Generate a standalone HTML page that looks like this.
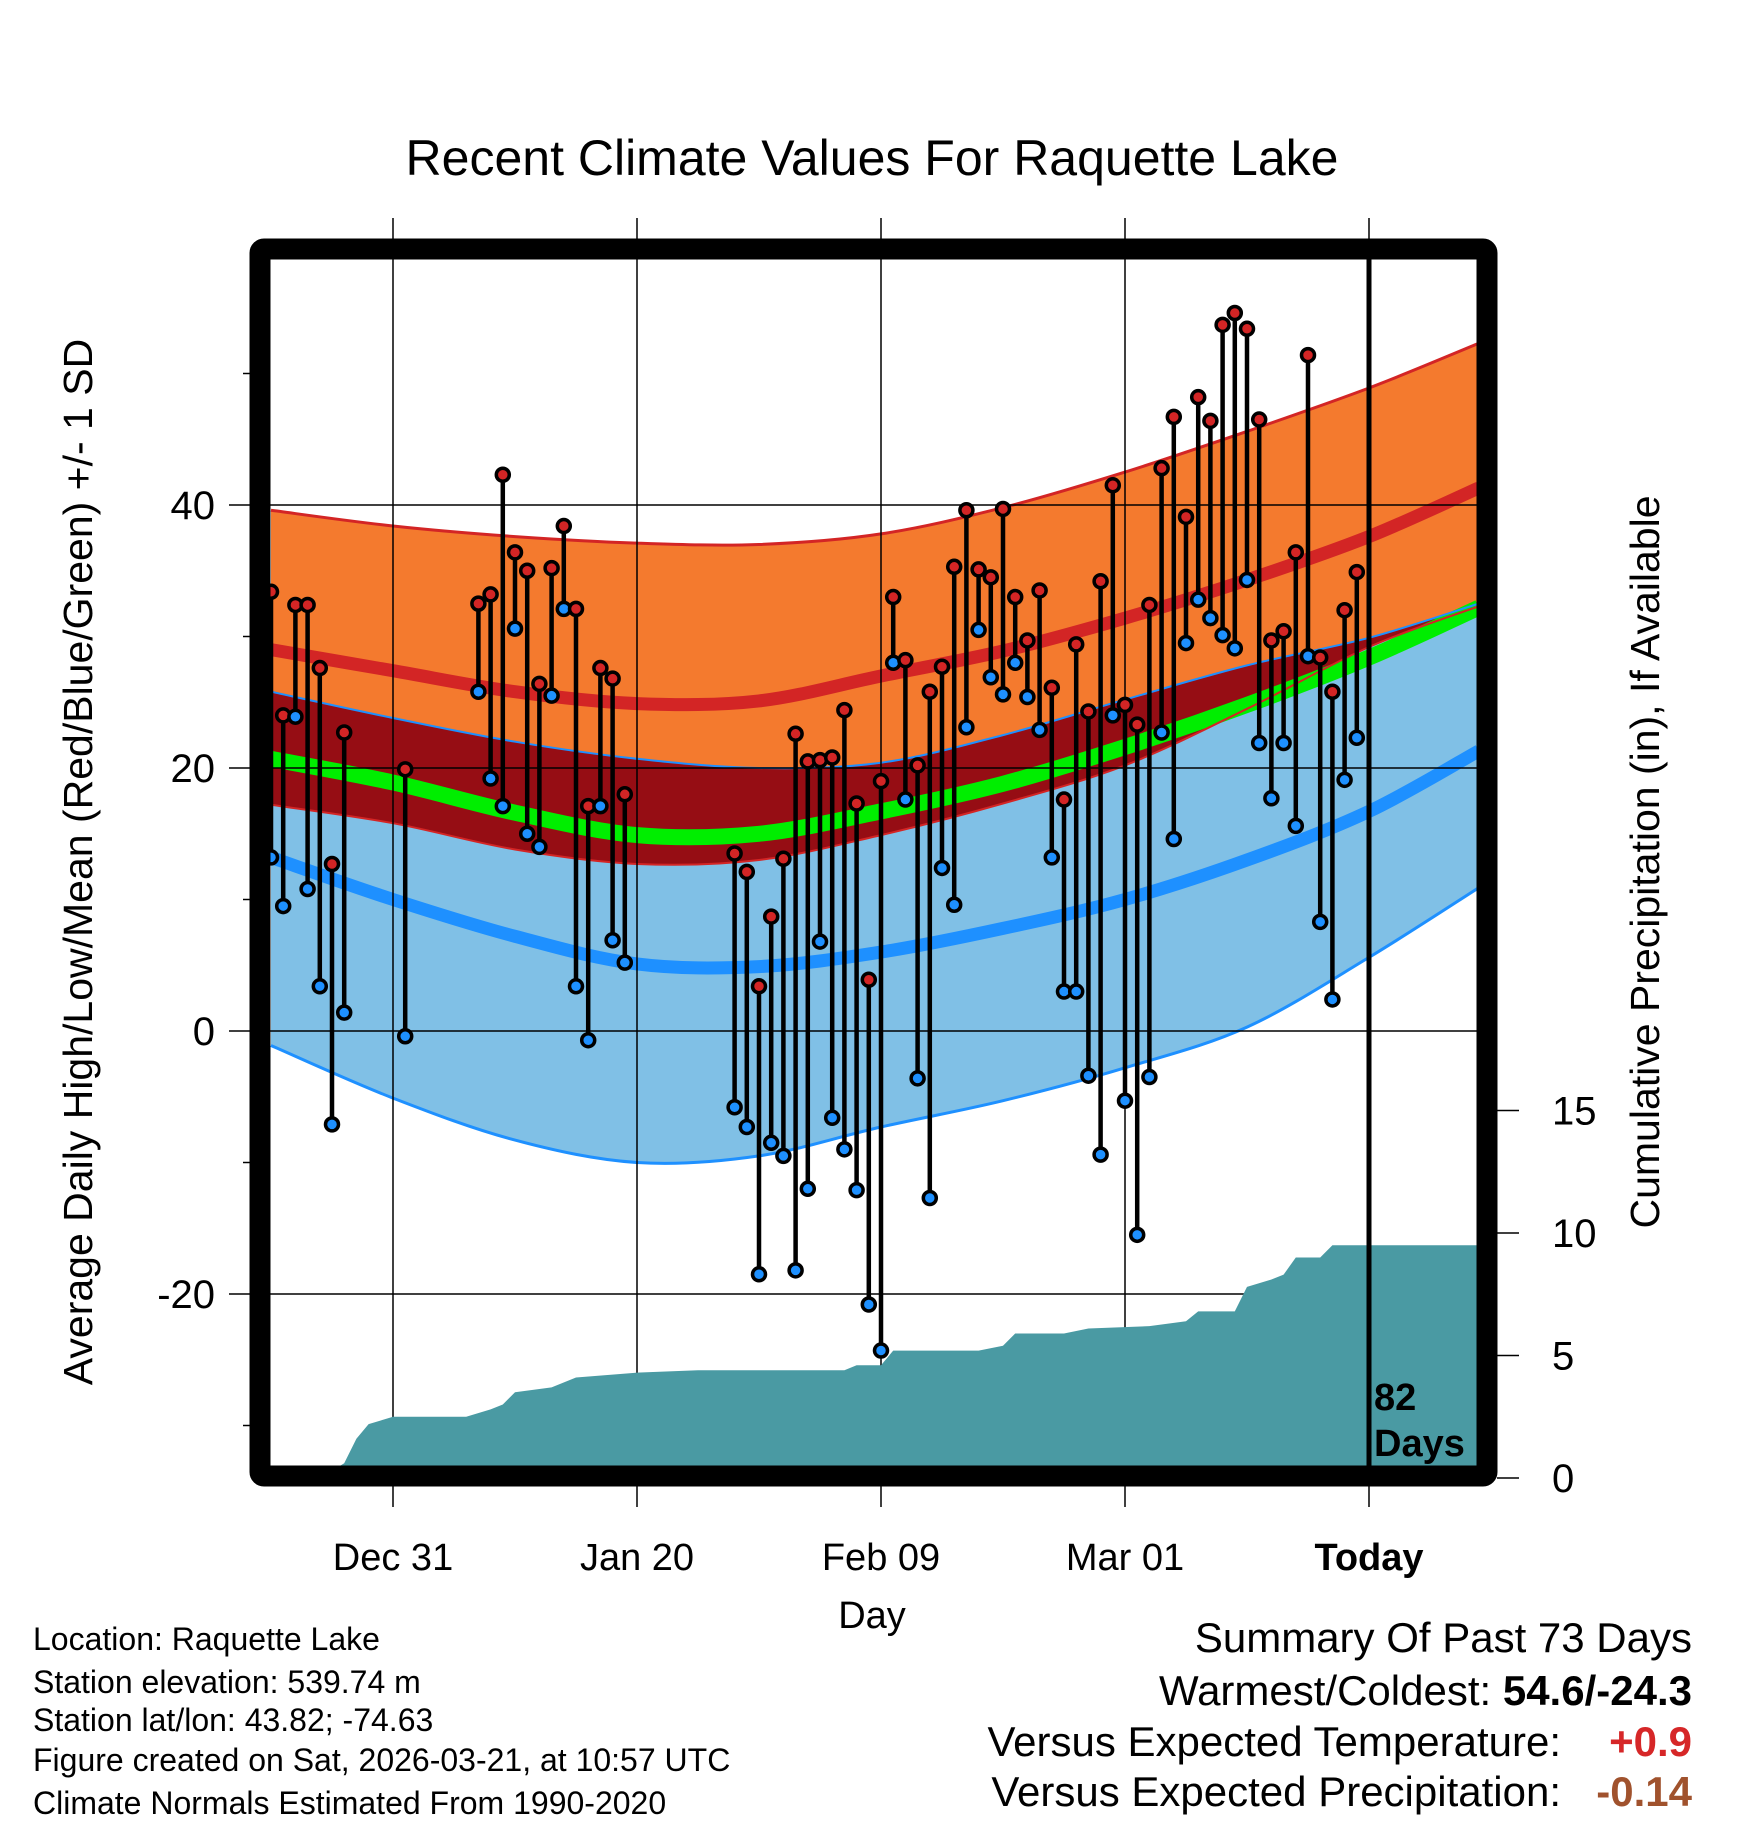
<!DOCTYPE html>
<html><head><meta charset="utf-8"><style>
html,body{margin:0;padding:0;background:#fff;}
svg{display:block;font-family:"Liberation Sans",Arial,sans-serif;}
</style></head><body>
<svg id="chart" width="1748" height="1828" viewBox="0 0 1748 1828" xmlns="http://www.w3.org/2000/svg">
<text x="872" y="175" font-size="50" text-anchor="middle">Recent Climate Values For Raquette Lake</text>
<g id="bands"></g>
<g id="grid"></g>
<g id="precip"></g>
<g id="obs"></g>
<g id="frame"></g>
<g id="axes"></g>
<text transform="translate(92,862) rotate(-90)" font-size="41" text-anchor="middle">Average Daily High/Low/Mean (Red/Blue/Green) +/- 1 SD</text>
<text transform="translate(1659,862) rotate(-90)" font-size="41" text-anchor="middle">Cumulative Precipitation (in), If Available</text>
<text x="872" y="1628" font-size="38" text-anchor="middle">Day</text>
<text x="1374" y="1410" font-size="38" font-weight="bold">82</text>
<text x="1374" y="1456" font-size="38" font-weight="bold">Days</text>
<g font-size="32">
<text x="33" y="1650">Location: Raquette Lake</text>
<text x="33" y="1693">Station elevation: 539.74 m</text>
<text x="33" y="1731">Station lat/lon: 43.82; -74.63</text>
<text x="33" y="1771">Figure created on Sat, 2026-03-21, at 10:57 UTC</text>
<text x="33" y="1814">Climate Normals Estimated From 1990-2020</text>
</g>
<g font-size="42">
<text x="1692" y="1652" text-anchor="end">Summary Of Past 73 Days</text>
<text x="1692" y="1705" text-anchor="end">Warmest/Coldest: <tspan font-weight="bold">54.6/-24.3</tspan></text>
<text x="1561" y="1756" text-anchor="end">Versus Expected Temperature:</text>
<text x="1692" y="1756" text-anchor="end" font-weight="bold" fill="#d62728">+0.9</text>
<text x="1561" y="1806" text-anchor="end">Versus Expected Precipitation:</text>
<text x="1692" y="1806" text-anchor="end" font-weight="bold" fill="#a0522d">-0.14</text>
</g>
</svg>
<script>
// Observations (day offset from Dec 31)
const obsDays = [-10,-9,-8,-7,-6,-5,-4,1,7,8,9,10,11,12,13,14,15,16,17,18,19,28,29,30,31,32,33,34,35,36,37,38,39,40,41,42,43,44,45,46,47,48,49,50,51,52,53,54,55,56,57,58,59,60,61,62,63,64,65,66,67,68,69,70,71,72,73,74,75,76,77,78,79];
const obsHigh = [33.4,24.0,32.4,32.4,27.6,12.7,22.7,19.9,32.5,33.2,42.3,36.4,35.0,26.4,35.2,38.4,32.1,17.1,27.6,26.8,18.0,13.5,12.1,3.4,8.7,13.1,22.6,20.5,20.6,20.8,24.4,17.3,3.9,19.0,33.0,28.2,20.2,25.8,27.7,35.3,39.6,35.1,34.5,39.7,33.0,29.7,33.5,26.1,17.6,29.4,24.3,34.2,41.5,24.8,23.3,32.4,42.8,46.7,39.1,48.2,46.4,53.7,54.6,53.4,46.5,29.7,30.4,36.4,51.4,28.4,25.8,32.0,34.9];
const obsLow = [13.2,9.5,23.9,10.8,3.4,-7.1,1.4,-0.4,25.8,19.2,17.1,30.6,15.0,14.0,25.5,32.1,3.4,-0.7,17.1,6.9,5.2,-5.8,-7.3,-18.5,-8.5,-9.5,-18.2,-12.0,6.8,-6.6,-9.0,-12.1,-20.8,-24.3,28.0,17.6,-3.6,-12.7,12.4,9.6,23.1,30.5,26.9,25.6,28.0,25.4,22.9,13.2,3.0,3.0,-3.4,-9.4,24.0,-5.3,-15.5,-3.5,22.7,14.6,29.5,32.8,31.4,30.1,29.1,34.3,21.9,17.7,21.9,15.6,28.5,8.3,2.4,19.1,22.3];
// Normals
const normDays = [-10,0,10,20,30,40,50,60,70,80,89];
const highTop = [39.6,38.4,37.6,37.1,37.0,37.8,39.8,42.5,45.6,48.9,52.3];
const highMean = [29.0,27.4,25.8,24.9,25.1,27.0,28.9,31.4,34.3,37.6,41.3];
const highBot = [17.2,15.8,13.8,12.7,13.0,14.9,17.3,20.2,24.5,29.2,32.3];
const lowTop = [25.8,23.8,22.0,20.7,20.0,20.4,22.5,25.2,27.8,29.9,32.5];
const lowMean = [13.2,10.0,7.2,5.1,4.9,6.0,7.8,10.0,13.0,16.7,21.3];
const lowBot = [-1.1,-5.1,-8.3,-10.0,-9.5,-7.3,-5.3,-2.8,0.3,5.6,10.9];
const meanMid = [20.7,18.9,16.6,14.9,15.0,16.7,18.8,21.6,24.8,28.4,32.2];
// Cumulative precipitation
const precipDays = [-10,-6,-5,-4,-3,-2,0,6,8,9,10,13,15,20,25,37,38,40,41,48,50,51,55,57,62,65,66,69,70,72,73,74,76,77,89];
const precipVals = [0,0.1,0.3,0.6,1.6,2.2,2.5,2.5,2.8,3.0,3.5,3.7,4.1,4.3,4.4,4.4,4.6,4.6,5.2,5.2,5.4,5.9,5.9,6.1,6.2,6.4,6.8,6.8,7.8,8.1,8.3,9.0,9.0,9.5,9.5];
const xTickDays = [0,20,40,60,80];
const xTickLabels = ["Dec 31","Jan 20","Feb 09","Mar 01","Today"];
const yTicks = [-20,0,20,40];
const yMinor = [-30,-10,10,30,50];
const pTicks = [0,5,10,15];

const NS="http://www.w3.org/2000/svg";
const X0=270,X1=1478,Y0=260,Y1=1466;
function xs(d){return 393+d*12.2;}
function ys(t){return 1031-t*13.15;}
function ps(p){return 1478-p*24.5;}
function mk(tag,parent,attrs){const e=document.createElementNS(NS,tag);for(const k in attrs)e.setAttribute(k,attrs[k]);parent.appendChild(e);return e;}
const svg=document.getElementById('chart');
const defs=mk('defs',svg,{});
const cp=mk('clipPath',defs,{id:'pc'});
mk('rect',cp,{x:X0,y:Y0,width:X1-X0,height:Y1-Y0});
const bands=document.getElementById('bands');bands.setAttribute('clip-path','url(#pc)');
function pts(arr){return arr.map((v,i)=>[xs(normDays[i]),ys(v)]);}
function spline(p,start){
  let d=start?('M'+p[0][0].toFixed(1)+','+p[0][1].toFixed(1)):('L'+p[0][0].toFixed(1)+','+p[0][1].toFixed(1));
  for(let i=0;i<p.length-1;i++){
    const p0=p[Math.max(i-1,0)],p1=p[i],p2=p[i+1],p3=p[Math.min(i+2,p.length-1)];
    const c1=[p1[0]+(p2[0]-p0[0])/6,p1[1]+(p2[1]-p0[1])/6];
    const c2=[p2[0]-(p3[0]-p1[0])/6,p2[1]-(p3[1]-p1[1])/6];
    d+='C'+c1[0].toFixed(1)+','+c1[1].toFixed(1)+' '+c2[0].toFixed(1)+','+c2[1].toFixed(1)+' '+p2[0].toFixed(1)+','+p2[1].toFixed(1);
  }
  return d;
}
function curve(arr){return spline(pts(arr),true);}
function band(top,bot){return spline(pts(top),true)+spline(pts(bot).reverse(),false)+'Z';}
let e;
e=mk('path',bands,{d:band(highTop,highBot),fill:'#f47a2e'});


e=mk('path',bands,{d:band(lowTop,lowBot),fill:'#80c0e6'});


e=mk('path',bands,{d:band(lowTop,highBot.map((v,i)=>Math.min(v,lowTop[i]))),fill:'#960d14'});


e=mk('path',bands,{d:curve(meanMid),fill:'none',stroke:'#00ee00','stroke-width':16});


e=mk('path',bands,{d:curve(highMean),fill:'none',stroke:'#d32525','stroke-width':13});


e=mk('path',bands,{d:curve(lowMean),fill:'none',stroke:'#1e90ff','stroke-width':13});


e=mk('path',bands,{d:curve(highTop),fill:'none',stroke:'#d32525','stroke-width':3});


e=mk('path',bands,{d:curve(highBot),fill:'none',stroke:'#d32525','stroke-width':2});


e=mk('path',bands,{d:curve(lowTop),fill:'none',stroke:'#1e90ff','stroke-width':2});


e=mk('path',bands,{d:curve(lowBot),fill:'none',stroke:'#1e90ff','stroke-width':3});



// grid
const grid=document.getElementById('grid');
xTickDays.forEach((d,i)=>{
  if(i<4){const g=mk('line',grid,{x1:xs(d),x2:xs(d),y1:218,y2:1507,stroke:'#000','stroke-width':1.5});
  
  }
});
yTicks.forEach(t=>{
  const g=mk('line',grid,{x1:229,x2:X1,y1:ys(t),y2:ys(t),stroke:'#000','stroke-width':1.5});
  
  
});

// precip
const pg=document.getElementById('precip');pg.setAttribute('clip-path','url(#pc)');
let pp=[];precipDays.forEach((d,i)=>pp.push(xs(d)+','+ps(precipVals[i])));
pp.push(xs(89)+','+ps(0),xs(-10)+','+ps(0));
e=mk('polygon',pg,{points:pp.join(' '),fill:'#4a9aa3'});



// observations
const og=document.getElementById('obs');
obsDays.forEach((d,i)=>{
  const x=xs(d);
  const s=mk('line',og,{x1:x,x2:x,y1:ys(obsHigh[i]),y2:ys(obsLow[i]),stroke:'#000','stroke-width':4.5});
  
  
  const h=mk('circle',og,{cx:x,cy:ys(obsHigh[i]),r:6.5,fill:'#d32525',stroke:'#000','stroke-width':3.5});
  
  
  const l=mk('circle',og,{cx:x,cy:ys(obsLow[i]),r:6.5,fill:'#1e90ff',stroke:'#000','stroke-width':3.5});
  
  
});

// frame + today line
const fr=document.getElementById('frame');
e=mk('rect',fr,{x:260,y:249,width:1227,height:1227,fill:'none',stroke:'#000','stroke-width':21,rx:4});


e=mk('line',fr,{x1:xs(80),x2:xs(80),y1:240,y2:1480,stroke:'#000','stroke-width':5});


e=mk('line',fr,{x1:xs(80),x2:xs(80),y1:218,y2:1507,stroke:'#000','stroke-width':1.5});



// axes labels
const ax=document.getElementById('axes');
xTickDays.forEach((d,i)=>{
  const t=mk('text',ax,{x:xs(d),y:1570,'font-size':38,'text-anchor':'middle','font-weight':i==4?'bold':'normal'});
  t.textContent=xTickLabels[i];
  
  
});
yTicks.forEach(v=>{
  const t=mk('text',ax,{x:215,y:ys(v)+14,'font-size':40,'text-anchor':'end'});
  t.textContent=String(v);
  
  
});
yMinor.forEach(v=>{
  const t=mk('line',ax,{x1:243,x2:250,y1:ys(v),y2:ys(v),stroke:'#000','stroke-width':1.5});
  
  
});
pTicks.forEach(v=>{
  const t=mk('line',ax,{x1:1497,x2:1519,y1:ps(v),y2:ps(v),stroke:'#000','stroke-width':1.5});
  
  
  const l=mk('text',ax,{x:1552,y:ps(v)+14,'font-size':40});
  l.textContent=String(v);
  
  
});
</script>
</body></html>
